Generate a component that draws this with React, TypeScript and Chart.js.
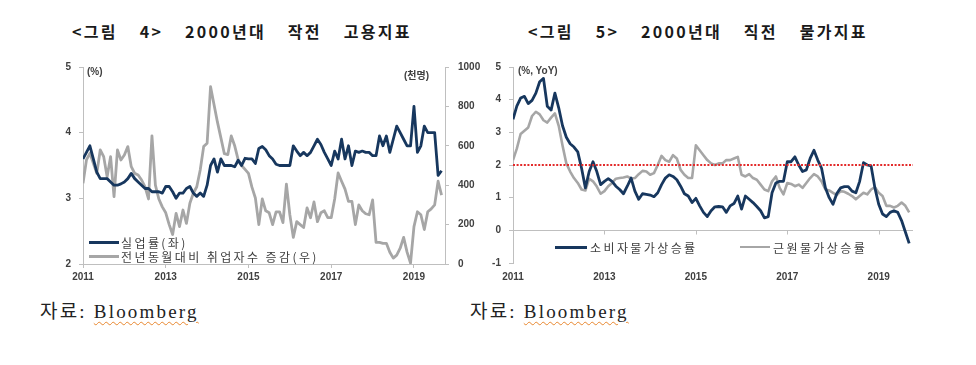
import React, { useEffect, useRef } from "react";
import { Chart, registerables } from "chart.js";

Chart.register(...registerables);

// ---------- data (monthly, Jan 2011 .. Sep 2019) ----------
const yearLabels = ["2011", "2013", "2015", "2017", "2019"];
const yearTickMonths = [0, 24, 48, 72, 96];

// 실업률 (%), left axis
const unemploymentRate = [
  3.6, 3.7, 3.8, 3.6, 3.4, 3.3, 3.3, 3.3, 3.25, 3.2,
  3.2, 3.22, 3.25, 3.3, 3.38, 3.3, 3.25, 3.2, 3.15, 3.15,
  3.1, 3.1, 3.1, 3.08, 3.18, 3.18, 3.1, 3.0, 3.08, 3.08,
  3.15, 3.18, 3.08, 3.03, 3.08, 3.03, 3.2, 3.5, 3.6, 3.4,
  3.6, 3.5, 3.5, 3.5, 3.48, 3.58, 3.5, 3.61, 3.6, 3.6,
  3.53, 3.76, 3.79, 3.74, 3.65, 3.6, 3.52, 3.5, 3.5, 3.5,
  3.5, 3.8, 3.72, 3.65, 3.7, 3.65, 3.7, 3.8, 3.9, 3.82,
  3.7, 3.6, 3.5, 3.72, 3.6, 3.9, 3.6, 3.8, 3.5, 3.72,
  3.7, 3.72, 3.7, 3.7, 3.65, 3.65, 3.95, 3.8, 3.95, 3.7,
  3.9, 4.1, 4.0, 3.9, 3.8, 3.8, 4.4, 3.7, 3.8, 4.1,
  4.0, 4.0, 4.0, 3.35, 3.42,
];

// 전년동월대비 취업자수 증감 (천명), right axis
const employmentChange = [
  410, 528, 562, 511, 460, 579, 545, 443, 545, 342,
  579, 528, 553, 596, 494, 460, 452, 426, 392, 330,
  650, 400, 330, 290, 260, 200, 150, 257, 190, 274,
  206, 308, 359, 392, 477, 596, 613, 900, 810, 720,
  640, 560, 555, 650, 600, 530, 500, 480, 460, 390,
  335, 200, 330, 270, 260, 200, 265, 265, 210, 405,
  250, 135, 215, 200, 185, 285, 235, 315, 215, 260,
  270, 235, 235, 330, 462, 420, 380, 318, 318, 200,
  300, 270, 255, 250, 325, 110, 110, 105, 105, 60,
  30, 45, 80, 135, 60, 5, 190, 265, 250, 175,
  265, 280, 300, 420, 350,
];

// 소비자물가상승률 (%, YoY)
const cpiInflation = [
  3.4, 3.8, 4.05, 4.1, 3.88, 3.98, 4.2, 4.55, 4.65, 3.8,
  3.68, 4.2, 3.75, 3.2, 2.85, 2.65, 2.55, 2.4, 1.9, 1.3,
  1.8, 2.1, 1.8, 1.4, 1.5, 1.58, 1.5, 1.35, 1.25, 1.12,
  1.35, 1.6, 1.2, 0.95, 1.12, 1.1, 1.08, 1.03, 1.15, 1.4,
  1.6, 1.7, 1.65, 1.55, 1.35, 1.12, 1.05, 0.85, 0.98, 0.75,
  0.55, 0.42, 0.6, 0.72, 0.73, 0.72, 0.55, 0.75, 0.82, 1.05,
  0.65, 1.05, 0.95, 0.85, 0.73, 0.6, 0.38, 0.42, 1.15, 1.45,
  1.5, 1.5, 2.1, 2.1, 2.25, 2.0, 1.8, 1.85, 2.2, 2.45,
  2.15, 1.9, 1.3, 1.0, 0.8, 1.13, 1.3, 1.34, 1.34, 1.2,
  1.15, 1.5, 2.07, 2.0, 1.97, 1.3, 0.8, 0.5, 0.42, 0.55,
  0.6, 0.55, 0.3, -0.05, -0.4,
];

// 근원물가상승률 (%, YoY)
const coreInflation = [
  2.15, 2.5, 2.95, 3.05, 3.15, 3.5, 3.63, 3.55, 3.37, 3.3,
  3.45, 3.58, 3.2, 2.6, 2.05, 1.8, 1.6, 1.45, 1.25, 1.22,
  1.58, 1.5, 1.34, 1.12, 1.2, 1.35, 1.45, 1.58, 1.6, 1.62,
  1.65, 1.58, 1.6, 1.72, 1.82, 1.8, 1.7, 1.75, 2.0, 2.28,
  2.15, 2.1, 2.3, 2.2, 1.85, 1.7, 1.6, 1.6, 2.6, 2.45,
  2.3, 2.15, 2.05, 2.0, 2.05, 2.05, 2.15, 2.15, 2.2, 2.25,
  1.7, 1.65, 1.72, 1.6, 1.55, 1.4, 1.25, 1.2, 1.5, 1.65,
  1.3, 1.1, 1.45, 1.42, 1.35, 1.4, 1.3, 1.45, 1.6, 1.72,
  1.65, 1.5, 1.25, 1.22, 1.15, 1.08, 1.2, 1.18, 1.12, 1.05,
  0.95, 1.05, 1.15, 1.1, 1.25, 1.32, 1.15, 1.05, 0.75, 0.75,
  0.7, 0.75, 0.85, 0.75, 0.55,
];

const inflationTarget = 2;
const monthSpan = 105;

// ---------- styles ----------
const NAVY = "#17375e";
const GRAY = "#a6a6a6";
const AXIS = "#bfbfbf";
const LABEL = "#404040";
const RED = "#e32b2b";
const tickFont = { family: "'Liberation Sans', Arial, sans-serif", size: 10, weight: "bold" as const };
const KFONT = "'Noto Sans CJK KR', 'Noto Sans', sans-serif";

const toPoints = (arr: number[]) => arr.map((v, i) => ({ x: i, y: v }));
const plainNumber = (v: number) => String(v);

const xYearAxis = (extra: any) => ({
  type: "linear",
  min: 0,
  max: monthSpan,
  afterBuildTicks: (ax: any) => {
    ax.ticks = yearTickMonths.map((v) => ({ value: v }));
  },
  ticks: {
    callback: (v: number) => {
      const i = yearTickMonths.indexOf(v);
      return i >= 0 ? yearLabels[i] : "";
    },
    font: tickFont,
    color: LABEL,
    maxRotation: 0,
    autoSkip: false,
    ...(extra.ticks || {}),
  },
  grid: extra.grid,
  border: extra.border,
  afterFit: (s: any) => {
    s.height = extra.height;
  },
});

const zeroAxisPlugin = {
  id: "zeroAxis",
  beforeDatasetsDraw(chart: any) {
    const { ctx, chartArea, scales } = chart;
    const x = scales.x;
    const y = scales.y;
    const y0 = Math.round(y.getPixelForValue(0)) + 0.5;
    ctx.save();
    ctx.strokeStyle = AXIS;
    ctx.lineWidth = 1;
    ctx.beginPath();
    ctx.moveTo(chartArea.left, y0);
    ctx.lineTo(chartArea.right, y0);
    yearTickMonths.forEach((m) => {
      const px = Math.round(x.getPixelForValue(m)) + 0.5;
      ctx.moveTo(px, y0);
      ctx.lineTo(px, y0 + 4);
    });
    ctx.stroke();
    ctx.restore();
  },
};

function ChartCanvas({ config, width, height, style }: any) {
  const ref = useRef<HTMLCanvasElement>(null);
  useEffect(() => {
    if (!ref.current) return;
    const chart = new Chart(ref.current, config);
    return () => chart.destroy();
  }, []);
  return <canvas ref={ref} width={width} height={height} style={{ position: "absolute", display: "block", width, height, ...style }} />;
}

const leftConfig: any = {
  type: "line",
  data: {
    datasets: [
      {
        label: "실업률(좌)",
        data: toPoints(unemploymentRate),
        yAxisID: "y",
        borderColor: NAVY,
        borderWidth: 2.8,
        pointRadius: 0,
        tension: 0,
        borderJoinStyle: "round",
      },
      {
        label: "전년동월대비 취업자수 증감(우)",
        data: toPoints(employmentChange),
        yAxisID: "y2",
        borderColor: GRAY,
        borderWidth: 2.8,
        pointRadius: 0,
        tension: 0,
        borderJoinStyle: "round",
      },
    ],
  },
  options: {
    animation: false,
    responsive: false,
    events: [],
    layout: { padding: { top: 17, left: 0, right: 0, bottom: 0 } },
    plugins: { legend: { display: false }, tooltip: { enabled: false } },
    scales: {
      x: xYearAxis({
        height: 26,
        ticks: { padding: 3 },
        grid: { display: true, drawOnChartArea: false, drawTicks: true, tickLength: 4, color: AXIS },
        border: { display: true, color: AXIS },
      }),
      y: {
        position: "left",
        min: 2,
        max: 5,
        ticks: { stepSize: 1, font: tickFont, color: LABEL, padding: 8, callback: plainNumber },
        grid: { drawOnChartArea: false, tickLength: 4, color: AXIS },
        border: { display: true, color: AXIS },
        afterFit: (s: any) => {
          s.width = 53;
        },
      },
      y2: {
        position: "right",
        min: 0,
        max: 1000,
        ticks: { stepSize: 200, font: tickFont, color: LABEL, padding: 9, callback: plainNumber },
        grid: { drawOnChartArea: false, tickLength: 4, color: AXIS },
        border: { display: true, color: AXIS },
        afterFit: (s: any) => {
          s.width = 45;
        },
      },
    },
  },
};

const rightConfig: any = {
  type: "line",
  data: {
    datasets: [
      {
        label: "target",
        data: [
          { x: 0, y: inflationTarget },
          { x: monthSpan, y: inflationTarget },
        ],
        borderColor: RED,
        borderWidth: 2,
        borderDash: [2, 1.6],
        pointRadius: 0,
      },
      {
        label: "소비자물가상승률",
        data: toPoints(cpiInflation),
        borderColor: NAVY,
        borderWidth: 2.8,
        pointRadius: 0,
        tension: 0,
        borderJoinStyle: "round",
      },
      {
        label: "근원물가상승률",
        data: toPoints(coreInflation),
        borderColor: GRAY,
        borderWidth: 2.6,
        pointRadius: 0,
        tension: 0,
        borderJoinStyle: "round",
      },
    ],
  },
  plugins: [zeroAxisPlugin],
  options: {
    animation: false,
    responsive: false,
    events: [],
    layout: { padding: { top: 17, left: 0, right: 27, bottom: 0 } },
    plugins: { legend: { display: false }, tooltip: { enabled: false } },
    scales: {
      x: xYearAxis({
        height: 27,
        ticks: { padding: 8 },
        grid: { display: false, drawTicks: false },
        border: { display: false },
      }),
      y: {
        position: "left",
        min: -1,
        max: 5,
        ticks: { stepSize: 1, font: tickFont, color: LABEL, padding: 8, callback: plainNumber },
        grid: { drawOnChartArea: false, tickLength: 4, color: AXIS },
        border: { display: true, color: AXIS },
        afterFit: (s: any) => {
          s.width = 33;
        },
      },
    },
  },
};

const abs = (left: number, top: number, extra: any = {}) => ({ position: "absolute" as const, left, top, ...extra });

const titleStyle = {
  fontFamily: KFONT,
  fontSize: 16,
  fontWeight: 700,
  color: "#1a1a1a",
  whiteSpace: "pre" as const,
  letterSpacing: "2.3px",
  wordSpacing: "5px",
  lineHeight: "20px",
};

const legendText = {
  fontFamily: KFONT,
  fontSize: 12,
  color: LABEL,
  whiteSpace: "pre" as const,
  letterSpacing: "2.4px",
  lineHeight: "14px",
};

const unitText = {
  fontFamily: "'Liberation Sans', Arial, " + KFONT,
  fontSize: 10,
  fontWeight: 700,
  color: LABEL,
  whiteSpace: "pre" as const,
  lineHeight: "12px",
};

const sourceText = {
  fontFamily: "'Liberation Serif', 'Noto Sans CJK KR', serif",
  fontSize: 19,
  color: "#222",
  whiteSpace: "pre" as const,
  letterSpacing: "2.2px",
  lineHeight: "22px",
};

const wavy = {
  textDecoration: "underline wavy #e8872e",
  textDecorationThickness: "1px",
  textUnderlineOffset: "3px",
};

export default function App() {
  return (
    <div style={{ position: "absolute", left: 0, top: 0, width: 976, height: 365, background: "#fff", overflow: "hidden" }}>
      <div style={{ ...abs(72, 21), ...titleStyle }}>{"<그림  4>  2000년대  작전  고용지표"}</div>
      <div style={{ ...abs(528, 21), ...titleStyle }}>{"<그림  5>  2000년대  직전  물가지표"}</div>

      <ChartCanvas config={leftConfig} width={460} height={240} style={{ left: 30, top: 50 }} />
      <ChartCanvas config={rightConfig} width={460} height={240} style={{ left: 480, top: 50 }} />

      <div style={{ ...abs(87, 66), ...unitText }}>(%)</div>
      <div style={{ ...abs(404, 70), ...unitText }}>(천명)</div>
      <div style={{ ...abs(518, 65), ...unitText }}>(%, YoY)</div>

      <div style={abs(89, 241, { width: 30, height: 3, background: NAVY })} />
      <div style={{ ...abs(121, 236), ...legendText }}>실업률(좌)</div>
      <div style={abs(89, 255, { width: 30, height: 3, background: GRAY })} />
      <div style={{ ...abs(121, 250), ...legendText }}>전년동월대비 취업자수 증감(우)</div>

      <div style={abs(555, 246, { width: 32, height: 3, background: NAVY })} />
      <div style={{ ...abs(590, 241), ...legendText }}>소비자물가상승률</div>
      <div style={abs(740, 246, { width: 30, height: 2, background: GRAY })} />
      <div style={{ ...abs(773, 241), ...legendText }}>근원물가상승률</div>

      <div style={{ ...abs(40, 301), ...sourceText }}>
        자료: <span style={wavy}>Bloomberg</span>
      </div>
      <div style={{ ...abs(470, 301), ...sourceText }}>
        자료: <span style={wavy}>Bloomberg</span>
      </div>
    </div>
  );
}
